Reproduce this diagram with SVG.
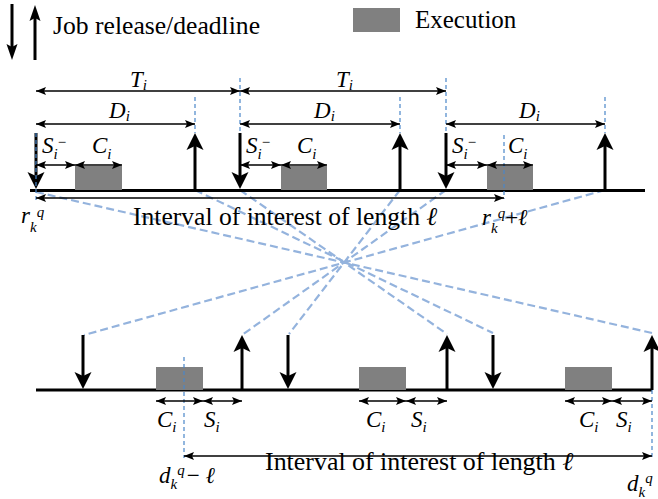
<svg xmlns="http://www.w3.org/2000/svg" xmlns:xlink="http://www.w3.org/1999/xlink" width="658" height="499" viewBox="0 0 658 499">
<style>
text{font-family:"Liberation Serif","Times New Roman",serif;fill:#000}
.it{font-style:italic}
.m{font-size:23px}
.s{font-size:15px}
.big{font-size:25.5px}
.thin{stroke:#000;stroke-width:1.5;fill:none;marker-start:url(#a);marker-end:url(#a)}
.thick{stroke:#000;stroke-width:3;fill:none}
.axis{stroke:#000;stroke-width:3}
.box{fill:#808080}
.vd{stroke:#4a86c8;stroke-width:1.2;stroke-dasharray:4 3;fill:none}
.dg{stroke:#94b3dd;stroke-width:2.2;stroke-dasharray:8 4;fill:none}
</style>
<defs>
<marker id="a" viewBox="0 0 10 8" refX="10" refY="4" markerWidth="10" markerHeight="8" markerUnits="userSpaceOnUse" orient="auto-start-reverse"><path d="M0,0 L10,4 L0,8 L2,4 Z" fill="#000"/></marker>
<path id="hu" d="M0,0 L-8.5,17 L0,13 L8.5,17 Z" fill="#000"/>
<path id="hd" d="M0,0 L-8.5,-17 L0,-13 L8.5,-17 Z" fill="#000"/>
<path id="lu" d="M0,0 L-5.5,16 L0,13 L5.5,16 Z" fill="#000"/>
<path id="ld" d="M0,0 L-5.5,-16 L0,-13 L5.5,-16 Z" fill="#000"/>
</defs>

<g id="legend">
<line class="thick" x1="12" y1="4" x2="12" y2="48"/><use xlink:href="#ld" x="12" y="60"/>
<line class="thick" x1="35" y1="17" x2="35" y2="60"/><use xlink:href="#lu" x="35" y="5"/>
<text x="53" y="34" class="big" textLength="207" lengthAdjust="spacingAndGlyphs">Job release/deadline</text>
<rect class="box" x="353" y="8" width="47" height="24"/>
<text x="415" y="28" style="font-size:25px">Execution</text>
</g>

<g id="connectors">
<line class="dg" x1="36" y1="192" x2="652" y2="333"/>
<line class="dg" x1="195" y1="190" x2="493" y2="333"/>
<line class="dg" x1="240" y1="190" x2="447" y2="334"/>
<line class="dg" x1="400" y1="190" x2="289" y2="334"/>
<line class="dg" x1="446" y1="190" x2="242" y2="335"/>
<line class="dg" x1="605" y1="190" x2="84" y2="335"/>
</g>

<g id="top-timeline">
<line class="axis" x1="30" y1="190.5" x2="645" y2="190.5"/>
<rect class="box" x="75" y="166" width="47" height="24"/>
<rect class="box" x="281" y="166" width="46" height="24"/>
<rect class="box" x="487" y="166" width="46" height="24"/>
<line class="thick" x1="36" y1="133" x2="36" y2="177"/><use xlink:href="#hd" x="36" y="189"/>
<line class="thick" x1="240" y1="133" x2="240" y2="177"/><use xlink:href="#hd" x="240" y="189"/>
<line class="thick" x1="446" y1="133" x2="446" y2="177"/><use xlink:href="#hd" x="446" y="189"/>
<line class="thick" x1="195" y1="146" x2="195" y2="190"/><use xlink:href="#hu" x="195" y="133"/>
<line class="thick" x1="400" y1="146" x2="400" y2="190"/><use xlink:href="#hu" x="400" y="133"/>
<line class="thick" x1="605" y1="146" x2="605" y2="190"/><use xlink:href="#hu" x="605" y="133"/>
<line class="vd" x1="36" y1="133" x2="36" y2="202"/>
<line class="vd" x1="195" y1="97" x2="195" y2="133"/>
<line class="vd" x1="240" y1="78" x2="240" y2="133"/>
<line class="vd" x1="400" y1="97" x2="400" y2="133"/>
<line class="vd" x1="446" y1="78" x2="446" y2="133"/>
<line class="vd" x1="605" y1="97" x2="605" y2="133"/>
<line class="vd" x1="504" y1="135" x2="504" y2="199"/>
<line class="thin" x1="36" y1="91" x2="240" y2="91"/>
<line class="thin" x1="240" y1="91" x2="446" y2="91"/>
<line class="thin" x1="36" y1="124" x2="195" y2="124"/>
<line class="thin" x1="240" y1="124" x2="400" y2="124"/>
<line class="thin" x1="446" y1="124" x2="605" y2="124"/>
<line class="thin" x1="36" y1="165" x2="75" y2="165"/>
<line class="thin" x1="75" y1="165" x2="122" y2="165"/>
<line class="thin" x1="240" y1="165" x2="281" y2="165"/>
<line class="thin" x1="281" y1="165" x2="327" y2="165"/>
<line class="thin" x1="446" y1="165" x2="487" y2="165"/>
<line class="thin" x1="487" y1="165" x2="533" y2="165"/>
<line class="thin" x1="36" y1="198" x2="504" y2="198"/>
<text x="130" y="87" class="m it">T<tspan class="s" dy="3">i</tspan></text>
<text x="336" y="87" class="m it">T<tspan class="s" dy="3">i</tspan></text>
<text x="109" y="118" class="m it">D<tspan class="s" dy="3">i</tspan></text>
<text x="314" y="118" class="m it">D<tspan class="s" dy="3">i</tspan></text>
<text x="519" y="118" class="m it">D<tspan class="s" dy="3">i</tspan></text>
<text x="42" y="153" class="m it">S<tspan class="s" dy="6">i</tspan><tspan class="s" style="font-style:normal" dx="0" dy="-12">−</tspan></text>
<text x="246" y="153" class="m it">S<tspan class="s" dy="6">i</tspan><tspan class="s" style="font-style:normal" dx="0" dy="-12">−</tspan></text>
<text x="452" y="153" class="m it">S<tspan class="s" dy="6">i</tspan><tspan class="s" style="font-style:normal" dx="0" dy="-12">−</tspan></text>
<text x="92" y="153" class="m it">C<tspan class="s" dy="6">i</tspan></text>
<text x="297" y="153" class="m it">C<tspan class="s" dy="6">i</tspan></text>
<text x="508" y="153" class="m it">C<tspan class="s" dy="6">i</tspan></text>
<text x="133" y="225" class="big" textLength="304" lengthAdjust="spacingAndGlyphs">Interval of interest of length <tspan class="it">ℓ</tspan></text>
<text x="21" y="223" class="m it">r<tspan class="s" dy="9">k</tspan><tspan class="s" dy="-15">q</tspan></text>
<text x="482" y="225" class="m it">r<tspan class="s" dy="8">k</tspan><tspan class="s" dy="-15">q</tspan><tspan style="font-style:normal" dy="7">+</tspan>ℓ</text>
</g>

<g id="bottom-timeline">
<line class="axis" x1="36" y1="390" x2="652" y2="390"/>
<rect class="box" x="156" y="367" width="47" height="23"/>
<rect class="box" x="359" y="367" width="47" height="23"/>
<rect class="box" x="565" y="367" width="47" height="23"/>
<line class="thick" x1="83" y1="335" x2="83" y2="377"/><use xlink:href="#hd" x="83" y="389"/>
<line class="thick" x1="288" y1="335" x2="288" y2="377"/><use xlink:href="#hd" x="288" y="389"/>
<line class="thick" x1="493" y1="335" x2="493" y2="377"/><use xlink:href="#hd" x="493" y="389"/>
<line class="thick" x1="242" y1="348" x2="242" y2="390"/><use xlink:href="#hu" x="242" y="335"/>
<line class="thick" x1="447" y1="348" x2="447" y2="390"/><use xlink:href="#hu" x="447" y="335"/>
<line class="thick" x1="652" y1="348" x2="652" y2="390"/><use xlink:href="#hu" x="652" y="335"/>
<line class="vd" x1="184" y1="357" x2="184" y2="458"/>
<line class="vd" x1="652" y1="390" x2="652" y2="457"/>
<line class="thin" x1="156" y1="401" x2="203" y2="401"/>
<line class="thin" x1="203" y1="401" x2="242" y2="401"/>
<line class="thin" x1="359" y1="401" x2="406" y2="401"/>
<line class="thin" x1="406" y1="401" x2="447" y2="401"/>
<line class="thin" x1="565" y1="401" x2="612" y2="401"/>
<line class="thin" x1="612" y1="401" x2="652" y2="401"/>
<line class="thin" x1="184" y1="456" x2="652" y2="456"/>
<text x="157" y="427" class="m it">C<tspan class="s" dy="5">i</tspan></text>
<text x="204" y="427" class="m it">S<tspan class="s" dy="5">i</tspan></text>
<text x="366" y="427" class="m it">C<tspan class="s" dy="5">i</tspan></text>
<text x="411" y="427" class="m it">S<tspan class="s" dy="5">i</tspan></text>
<text x="579" y="427" class="m it">C<tspan class="s" dy="5">i</tspan></text>
<text x="616" y="427" class="m it">S<tspan class="s" dy="5">i</tspan></text>
<text x="265" y="470" class="big" textLength="308" lengthAdjust="spacingAndGlyphs">Interval of interest of length <tspan class="it">ℓ</tspan></text>
<text x="159" y="483" class="m it">d<tspan class="s" dy="6">k</tspan><tspan class="s" dy="-14">q</tspan><tspan style="font-style:normal" dy="8" dx="2">−</tspan> ℓ</text>
<text x="627" y="491" class="m it">d<tspan class="s" dy="6">k</tspan><tspan class="s" dy="-14">q</tspan></text>
</g>
</svg>
